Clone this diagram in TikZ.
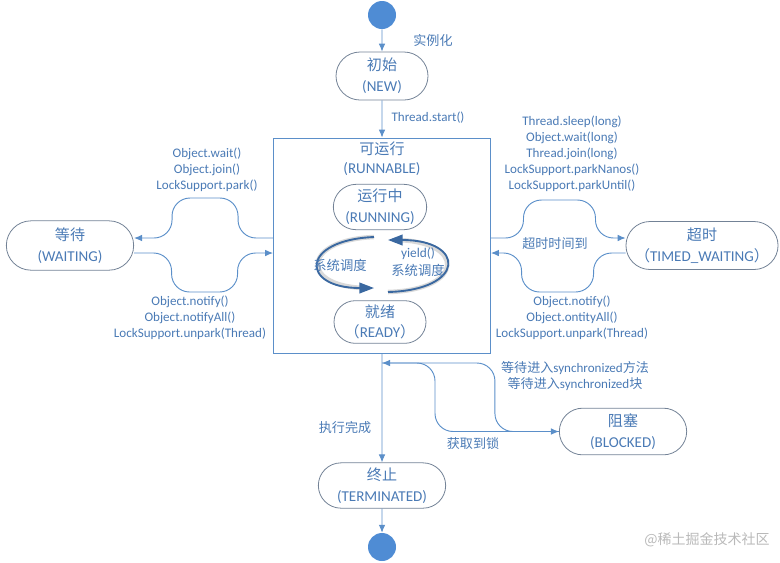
\documentclass[tikz,border=0pt]{standalone}
\usepackage{fontspec}
\setmainfont{Carlito}
\newfontfamily\cjk{Noto Sans CJK SC}
\usetikzlibrary{arrows.meta,shapes.misc,calc}
\definecolor{linec}{RGB}{91,143,201}
\definecolor{txtc}{RGB}{74,122,181}
\definecolor{nodec}{RGB}{115,130,150}
\definecolor{dotc}{RGB}{79,140,212}
\definecolor{cyc}{RGB}{58,104,160}
\tikzset{
 state/.style={draw=nodec, line width=0.6pt, rounded rectangle, text=txtc, align=center,
   font=\fontsize{11.3}{15.5}\selectfont, inner sep=1pt},
 conn/.style={draw=linec, line width=0.7pt, -{Latex[length=6pt,width=5pt]}},
 bumpconn/.style={conn, rounded corners=13.5pt},
 lbl/.style={text=txtc, align=center, font=\fontsize{9.8}{12}\selectfont, inner sep=0pt},
 dot/.style={circle, fill=dotc, minimum size=21pt, inner sep=0pt},
 cycarc/.style={draw=cyc, line width=1.4pt, -{Triangle[length=11pt,width=8pt]}},
 cychalo/.style={draw=gray!30, line width=3.4pt},
}
\begin{document}
\begin{tikzpicture}[x=0.75pt,y=-0.75pt]
\useasboundingbox (0,0) rectangle (780,562);

% nodes
\node[dot] (start) at (382,15) {};
\node[state, minimum width=71pt, minimum height=36pt] (new) at (382,76) {{\cjk 初始}\\(NEW)};
\node[draw=linec, line width=0.7pt, minimum width=162.75pt, minimum height=161.25pt, inner sep=0pt] (box) at (382,245.5) {};
\node[lbl, font=\fontsize{11.3}{14}\selectfont] (title) at (382,159) {{\cjk 可运行}\\(RUNNABLE)};
\node[state, minimum width=72pt, minimum height=34pt] (running) at (380,207) {{\cjk 运行中}\\(RUNNING)};
\node[state, minimum width=71pt, minimum height=32pt] (ready) at (380,322) {{\cjk 就绪}\\{\cjk （}READY{\cjk ）}};
\node[state, minimum width=97.5pt, minimum height=37pt] (wait) at (70,245.5) {{\cjk 等待}\\(WAITING)};
\node[state, minimum width=112.5pt, minimum height=36pt] (timed) at (702,245.5) {{\cjk 超时}\\{\cjk （}TIMED\_WAITING{\cjk ）}};
\node[state, minimum width=97.5pt, minimum height=35pt] (blocked) at (623,431.5) {{\cjk 阻塞}\\(BLOCKED)};
\node[state, minimum width=97.5pt, minimum height=34pt] (term) at (382,485.5) {{\cjk 终止}\\(TERMINATED)};
\node[dot] (end) at (382,547) {};
\coordinate (j) at (382,363);

% main flow
\draw[conn] (start) -- (new);
\node[lbl] (l1) at (433,40) {\cjk 实例化};
\draw[conn] (new) -- (box.north);
\node[lbl] (l2) at (428,118) {Thread.start()};
\draw[conn] (box.south) -- (term);
\node[lbl] (l3) at (345,428) {\cjk 执行完成};
\draw[conn] (term) -- (end);

% waiting
\draw[bumpconn] ($(box.west)+(0,-7.5)$) -- ++(-35,0) -- ++(0,-40) -- ++(-66,0) -- ++(0,40) -- ($(wait.east)+(0,-7.5)$);
\draw[bumpconn] ($(wait.east)+(0,7.5)$) -- ++(37.5,0) -- ++(0,39) -- ++(66,0) -- ++(0,-39) -- ($(box.west)+(0,7.5)$);
\node[lbl] (l4) at (207,170) {Object.wait()\\Object.join()\\LockSupport.park()};
\node[lbl] (l5) at (190,317.5) {Object.notify()\\Object.notifyAll()\\LockSupport.unpark(Thread)};

% timed waiting
\draw[bumpconn] ($(box.east)+(0,-7.5)$) -- ++(32.5,0) -- ++(0,-38) -- ++(72,0) -- ++(0,38) -- ($(timed.west)+(0,-7.5)$);
\draw[bumpconn] ($(timed.west)+(0,7.5)$) -- ++(-32,0) -- ++(0,39) -- ++(-72,0) -- ++(0,-39) -- ($(box.east)+(0,7.5)$);
\node[lbl] (l6) at (572,154) {Thread.sleep(long)\\Object.wait(long)\\Thread.join(long)\\LockSupport.parkNanos()\\LockSupport.parkUntil()};
\node[lbl] (l7) at (555,244) {\cjk 超时时间到};
\node[lbl] (l8) at (572,318) {Object.notify()\\Object.ontityAll()\\LockSupport.unpark(Thread)};

% blocked
\draw[bumpconn] (j) -- ++(53,0) -- ++(0,68.5) -- (blocked.west);
\draw[bumpconn] (blocked.west) -- ++(-64,0) -- ++(0,-68.5) -- (j);
\node[lbl] (l9) at (575,376) {{\cjk 等待进入}synchronized{\cjk 方法}\\{\cjk 等待进入}synchronized{\cjk 块}};
\node[lbl] (l10) at (473,443) {\cjk 获取到锁};

% scheduling cycle
\draw[cychalo] (374,237) .. controls (300,240) and (300,288) .. (368,288);
\draw[cycarc] (374,237) .. controls (300,240) and (300,288) .. (374,288);
\draw[cychalo] (388,292) .. controls (466,290) and (466,240) .. (394,240);
\draw[cycarc] (388,292) .. controls (466,290) and (466,240) .. (388,240);
\node[lbl, font=\fontsize{10}{13}\selectfont] (l11) at (340,265) {\cjk 系统调度};
\node[lbl, font=\fontsize{10}{13}\selectfont] (l12) at (418,262) {yield()\\{\cjk 系统调度}};

% watermark
\node[text=gray!55, font=\cjk\fontsize{10.5}{12}\selectfont, inner sep=0pt] (wm) at (707,540) {@稀土掘金技术社区};
\end{tikzpicture}
\end{document}
